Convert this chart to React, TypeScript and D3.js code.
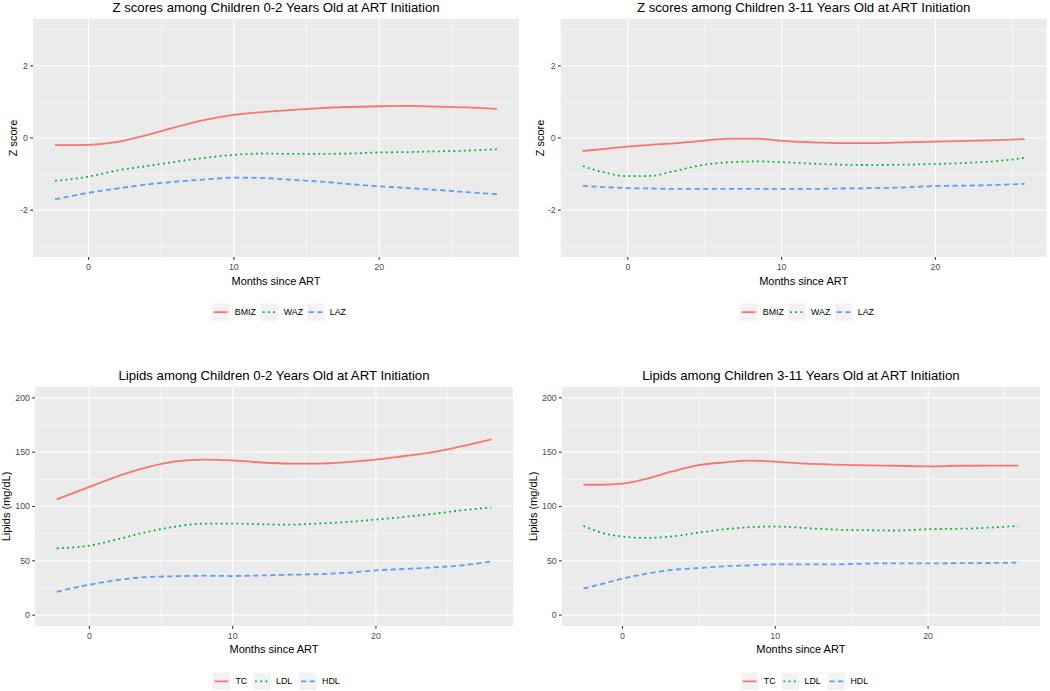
import React from "react";
import * as d3 from "d3";

// ---------- DATA ----------
const zTicks = [-2, 0, 2];
const zMinor = [-3, -1, 1, 3];
const zLimits = [-3, 3];
const lipidTicks = [0, 50, 100, 150, 200];
const lipidMinor = [25, 75, 125, 175];
const lipidLimits = [0, 200];
const monthTicks = [0, 10, 20];
const monthMinor = [-5, 5, 15, 25];

const zSeriesNames = ["BMIZ", "WAZ", "LAZ"];
const lipidSeriesNames = ["TC", "LDL", "HDL"];

// Z scores, 0-2 years
const z02Months = [-2.3, 0, 2, 4, 6, 8, 10, 12, 14, 16, 18, 20, 22, 24, 26, 28.1];
const z02BMIZ = [-0.2, -0.19, -0.11, 0.08, 0.3, 0.5, 0.64, 0.72, 0.78, 0.83, 0.86, 0.88, 0.89, 0.87, 0.85, 0.81];
const z02WAZ = [-1.19, -1.07, -0.9, -0.78, -0.66, -0.55, -0.47, -0.43, -0.44, -0.44, -0.43, -0.4, -0.39, -0.37, -0.35, -0.31];
const z02LAZ = [-1.7, -1.52, -1.4, -1.29, -1.21, -1.15, -1.1, -1.11, -1.16, -1.21, -1.28, -1.34, -1.39, -1.44, -1.5, -1.56];

// Z scores, 3-11 years
const z311Months = [-2.93, -1.5, 0, 1.5, 3, 5, 6.75, 8.5, 10, 12, 14, 16, 18, 20, 22, 24, 25.8];
const z311BMIZ = [-0.36, -0.3, -0.24, -0.19, -0.15, -0.07, -0.02, -0.02, -0.08, -0.12, -0.14, -0.14, -0.12, -0.1, -0.08, -0.06, -0.03];
const z311WAZ = [-0.78, -0.96, -1.06, -1.05, -0.92, -0.74, -0.67, -0.65, -0.67, -0.71, -0.74, -0.75, -0.74, -0.72, -0.69, -0.64, -0.55];
const z311LAZ = [-1.33, -1.36, -1.39, -1.4, -1.41, -1.41, -1.41, -1.41, -1.41, -1.41, -1.4, -1.39, -1.37, -1.33, -1.32, -1.3, -1.27];

// Lipids, 0-2 years
const l02Months = [-2.28, 0, 2, 4, 6, 8, 10, 12, 14, 16, 18, 20, 22, 24, 26, 28.05];
const l02TC = [106.5, 118, 128, 136, 141.5, 143.2, 142.5, 140.5, 139.5, 139.5, 140.8, 143.1, 146.5, 150, 155.5, 161.9];
const l02LDL = [61.5, 64, 70, 76.5, 81.5, 84.3, 84.3, 83.6, 83.3, 84.3, 85.8, 88, 90.5, 93.2, 96.5, 99.1];
const l02HDL = [21.5, 28, 32.4, 35, 35.8, 36.3, 36, 36.5, 37.2, 37.7, 39, 41.2, 42.5, 44, 45.8, 49.5];

// Lipids, 3-11 years
const l311Months = [-2.55, -1.4, 0, 1.5, 3.2, 5, 6.7, 8.4, 10, 12, 14, 16, 18, 20, 22, 24, 25.9];
const l311TC = [120, 120, 121, 125.3, 132, 138, 140.6, 142.2, 141.3, 139.5, 138.6, 137.8, 137.5, 137, 137.5, 137.6, 137.6];
const l311LDL = [82.2, 76, 72.4, 71.1, 72.4, 76, 79.1, 81, 81.6, 80.2, 78.7, 78.2, 77.9, 79.1, 79.5, 80.5, 82.2];
const l311HDL = [24.4, 28.5, 33.6, 37.9, 41.6, 43.4, 45, 45.9, 46.8, 46.8, 46.8, 47.5, 47.7, 47.7, 47.8, 48, 48.4];

// ---------- STYLE ----------
const COLORS = ["#F8766D", "#00BA38", "#619CFF"];
const DASHES = [null, "1.9,3.3", "5.2,3.4"];
const FONT = "'Liberation Sans', Arial, Helvetica, sans-serif";
const LINE_W = 1.8;

type PanelProps = {
  left: number; right: number; top: number; bottom: number;
  title: string; titleY: number; yTitle: string; yTitleX: number; xTitleY: number;
  months: number[]; series: number[][]; names: string[];
  yLimits: number[]; yTicks: number[]; yMinor: number[];
  keyXs: number[]; keyTop: number;
};

function Panel(p: PanelProps) {
  const ext = d3.extent(p.months) as [number, number];
  const xr = ext[1] - ext[0];
  const x = d3.scaleLinear().domain([ext[0] - 0.05 * xr, ext[1] + 0.05 * xr]).range([p.left, p.right]);
  const yr = p.yLimits[1] - p.yLimits[0];
  const y = d3.scaleLinear().domain([p.yLimits[0] - 0.05 * yr, p.yLimits[1] + 0.05 * yr]).range([p.bottom, p.top]);
  const [x0, x1] = x.domain();
  const line = d3.line<[number, number]>().x((d) => x(d[0])).y((d) => y(d[1])).curve(d3.curveMonotoneX);
  const cx = (p.left + p.right) / 2;
  const cy = (p.top + p.bottom) / 2;
  const keySize = 17.3;
  return (
    <g>
      <rect x={p.left} y={p.top} width={p.right - p.left} height={p.bottom - p.top} fill="#EBEBEB" />
      {p.yMinor.map((v) => (
        <line key={"ym" + v} x1={p.left} x2={p.right} y1={y(v)} y2={y(v)} stroke="#fff" strokeWidth={0.55} />
      ))}
      {monthMinor.filter((v) => v > x0 && v < x1).map((v) => (
        <line key={"xm" + v} x1={x(v)} x2={x(v)} y1={p.top} y2={p.bottom} stroke="#fff" strokeWidth={0.55} />
      ))}
      {p.yTicks.map((v) => (
        <line key={"yM" + v} x1={p.left} x2={p.right} y1={y(v)} y2={y(v)} stroke="#fff" strokeWidth={1.1} />
      ))}
      {monthTicks.map((v) => (
        <line key={"xM" + v} x1={x(v)} x2={x(v)} y1={p.top} y2={p.bottom} stroke="#fff" strokeWidth={1.1} />
      ))}
      {p.series.map((s, i) => (
        <path
          key={"s" + i}
          d={line(p.months.map((m, j) => [m, s[j]] as [number, number])) || ""}
          fill="none"
          stroke={COLORS[i]}
          strokeWidth={LINE_W}
          strokeDasharray={DASHES[i] || undefined}
        />
      ))}
      {/* y axis */}
      {p.yTicks.map((v) => (
        <g key={"yt" + v}>
          <line x1={p.left - 2.75} x2={p.left} y1={y(v)} y2={y(v)} stroke="#333" strokeWidth={1.1} />
          <text x={p.left - 5} y={y(v)} dy="0.33em" textAnchor="end" fontSize={8.8} fill="#4D4D4D" fontFamily={FONT}>
            {v}
          </text>
        </g>
      ))}
      {/* x axis */}
      {monthTicks.map((v) => (
        <g key={"xt" + v}>
          <line x1={x(v)} x2={x(v)} y1={p.bottom} y2={p.bottom + 2.75} stroke="#333" strokeWidth={1.1} />
          <text x={x(v)} y={p.bottom + 13.3} textAnchor="middle" fontSize={8.8} fill="#4D4D4D" fontFamily={FONT}>
            {v}
          </text>
        </g>
      ))}
      <text x={cx} y={p.xTitleY} textAnchor="middle" fontSize={11} fill="#000" fontFamily={FONT}>
        Months since ART
      </text>
      <text
        transform={`translate(${p.yTitleX},${cy}) rotate(-90)`}
        textAnchor="middle"
        fontSize={11}
        fill="#000"
        fontFamily={FONT}
      >
        {p.yTitle}
      </text>
      <text x={cx} y={p.titleY} textAnchor="middle" fontSize={13.2} fill="#000" fontFamily={FONT}>
        {p.title}
      </text>
      {/* legend */}
      {p.names.map((n, i) => (
        <g key={"lg" + n}>
          <rect x={p.keyXs[i]} y={p.keyTop} width={keySize} height={keySize} fill="#F2F2F2" />
          <line
            x1={p.keyXs[i] + 1.7}
            x2={p.keyXs[i] + keySize - 1.7}
            y1={p.keyTop + keySize / 2}
            y2={p.keyTop + keySize / 2}
            stroke={COLORS[i]}
            strokeWidth={LINE_W}
            strokeDasharray={DASHES[i] || undefined}
          />
          <text
            x={p.keyXs[i] + keySize + 5.5}
            y={p.keyTop + keySize / 2}
            dy="0.35em"
            fontSize={8.8}
            fill="#000"
            fontFamily={FONT}
          >
            {n}
          </text>
        </g>
      ))}
    </g>
  );
}

export default function App() {
  return (
    <svg
      width={1050}
      height={691}
      style={{ position: "absolute", left: 0, top: 0, background: "#fff" }}
    >
      <rect width={1050} height={691} fill="#fff" />
      <Panel
        left={33} right={519} top={19} bottom={257}
        title="Z scores among Children 0-2 Years Old at ART Initiation" titleY={12}
        yTitle="Z score" yTitleX={16.5} xTitleY={285}
        months={z02Months} series={[z02BMIZ, z02WAZ, z02LAZ]} names={zSeriesNames}
        yLimits={zLimits} yTicks={zTicks} yMinor={zMinor}
        keyXs={[212, 261, 307]} keyTop={303.5}
      />
      <Panel
        left={560.7} right={1046.7} top={19} bottom={257}
        title="Z scores among Children 3-11 Years Old at ART Initiation" titleY={12}
        yTitle="Z score" yTitleX={544} xTitleY={285}
        months={z311Months} series={[z311BMIZ, z311WAZ, z311LAZ]} names={zSeriesNames}
        yLimits={zLimits} yTicks={zTicks} yMinor={zMinor}
        keyXs={[740, 788.3, 835]} keyTop={303.5}
      />
      <Panel
        left={35} right={513} top={387} bottom={626}
        title="Lipids among Children 0-2 Years Old at ART Initiation" titleY={379.5}
        yTitle="Lipids (mg/dL)" yTitleX={9.7} xTitleY={652.5}
        months={l02Months} series={[l02TC, l02LDL, l02HDL]} names={lipidSeriesNames}
        yLimits={lipidLimits} yTicks={lipidTicks} yMinor={lipidMinor}
        keyXs={[212.7, 253.3, 299.3]} keyTop={672.7}
      />
      <Panel
        left={561.7} right={1040} top={387} bottom={626}
        title="Lipids among Children 3-11 Years Old at ART Initiation" titleY={379.5}
        yTitle="Lipids (mg/dL)" yTitleX={537} xTitleY={652.5}
        months={l311Months} series={[l311TC, l311LDL, l311HDL]} names={lipidSeriesNames}
        yLimits={lipidLimits} yTicks={lipidTicks} yMinor={lipidMinor}
        keyXs={[741, 781.7, 827.7]} keyTop={672.7}
      />
    </svg>
  );
}
